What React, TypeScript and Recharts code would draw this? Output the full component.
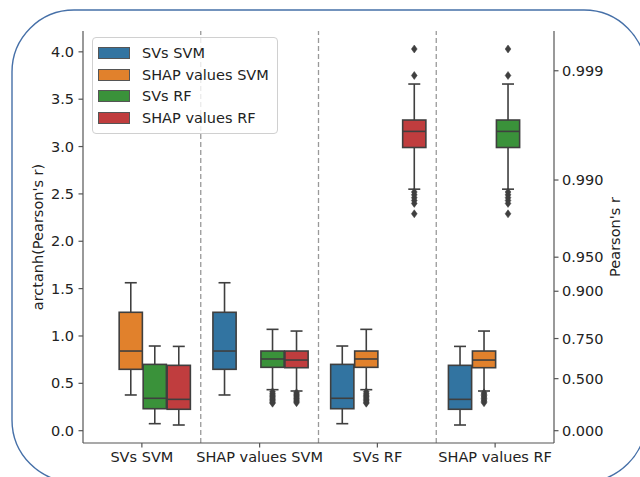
import React from 'react';
import { ComposedChart, Bar, XAxis, YAxis, ReferenceLine, Legend } from 'recharts';

// Categories (x groups) and hue series
const groups = ['SVs SVM', 'SHAP values SVM', 'SVs RF', 'SHAP values RF'];
const seriesNames = ['SVs SVM', 'SHAP values SVM', 'SVs RF', 'SHAP values RF'];
const seriesColors = ['#3274a1', '#e1812c', '#3a923a', '#c03d3e'];

// Box statistics per group: [lower whisker, Q1, median, Q3, upper whisker]; null on the diagonal
const svsSvmStats = [null, [0.377, 0.648, 0.841, 1.25, 1.562], [0.074, 0.232, 0.342, 0.7, 0.894], [0.06, 0.226, 0.331, 0.69, 0.89]];
const shapSvmStats = [[0.377, 0.648, 0.841, 1.25, 1.562], null, [0.433, 0.669, 0.757, 0.841, 1.07], [0.419, 0.665, 0.746, 0.841, 1.052]];
const svsRfStats = [[0.074, 0.232, 0.342, 0.7, 0.894], [0.433, 0.669, 0.757, 0.841, 1.07], null, [2.55, 2.99, 3.16, 3.28, 3.66]];
const shapRfStats = [[0.06, 0.226, 0.331, 0.69, 0.89], [0.419, 0.665, 0.746, 0.841, 1.052], [2.55, 2.99, 3.16, 3.28, 3.66], null];

// Outliers per group
const svsSvmOutliers = [[], [], [], []];
const shapSvmOutliers = [[], [], [0.41, 0.39, 0.375, 0.36, 0.345, 0.33, 0.315, 0.3, 0.29], [0.4, 0.385, 0.37, 0.355, 0.34, 0.325, 0.31, 0.295]];
const svsRfOutliers = [[], [0.41, 0.39, 0.375, 0.36, 0.345, 0.33, 0.315, 0.3, 0.29], [], [2.52, 2.49, 2.46, 2.43, 2.4, 2.29, 3.75, 4.03]];
const shapRfOutliers = [[], [0.4, 0.385, 0.37, 0.355, 0.34, 0.325, 0.31, 0.295], [2.52, 2.49, 2.46, 2.43, 2.4, 2.29, 3.75, 4.03], []];

// Axis ticks
const leftTicks = [0, 0.5, 1, 1.5, 2, 2.5, 3, 3.5, 4];
const rTickLabels = [0, 0.5, 0.75, 0.9, 0.95, 0.99, 0.999];
const yDomain = [-0.13, 4.22];

const allStats = [svsSvmStats, shapSvmStats, svsRfStats, shapRfStats];
const allOutliers = [svsSvmOutliers, shapSvmOutliers, svsRfOutliers, shapRfOutliers];

const data = groups.map((g, gi) => {
  const row: any = { group: g, pos: gi + 0.5 };
  allStats.forEach((st, si) => {
    row[`s${si}`] = st[gi];
    row[`o${si}`] = allOutliers[si][gi];
  });
  return row;
});

const EDGE = '#3f3f3f';
const FONT = 'DejaVu Sans';
const TEXT = '#222';
const SPINE = '#555';

function makeBoxShape(si: number) {
  return (props: any) => {
    const { x, y, width, height, payload } = props;
    const s = payload && payload[`s${si}`];
    if (!s || height == null || isNaN(height)) return null;
    const lo = s[0];
    const hi = s[4];
    const top = Math.min(y, y + height);
    const h = Math.abs(height);
    const py = (v: number) => top + (h * (hi - v)) / (hi - lo);
    const bx = x + 0.4;
    const bw = width - 0.8;
    const cx = x + width / 2;
    const capHalf = width / 4;
    const outs: number[] = payload[`o${si}`] || [];
    return (
      <g>
        <line x1={cx} x2={cx} y1={py(s[3])} y2={py(hi)} stroke={EDGE} strokeWidth={1.6} />
        <line x1={cx} x2={cx} y1={py(s[1])} y2={py(lo)} stroke={EDGE} strokeWidth={1.6} />
        <line x1={cx - capHalf} x2={cx + capHalf} y1={py(hi)} y2={py(hi)} stroke={EDGE} strokeWidth={1.6} />
        <line x1={cx - capHalf} x2={cx + capHalf} y1={py(lo)} y2={py(lo)} stroke={EDGE} strokeWidth={1.6} />
        <rect x={bx} y={py(s[3])} width={bw} height={py(s[1]) - py(s[3])} fill={seriesColors[si]} stroke={EDGE} strokeWidth={1.6} />
        <line x1={bx} x2={bx + bw} y1={py(s[2])} y2={py(s[2])} stroke={EDGE} strokeWidth={1.6} />
        {outs.map((o, i) => {
          const oy = py(o);
          return (
            <path key={i} d={`M${cx},${oy - 4} L${cx + 2.9},${oy} L${cx},${oy + 4} L${cx - 2.9},${oy} Z`} fill={EDGE} stroke={EDGE} strokeWidth={0.5} />
          );
        })}
      </g>
    );
  };
}

const LegendBox = (props: any) => {
  const payload = [...(props.payload || [])].sort(
    (a: any, b: any) => seriesNames.indexOf(a.value) - seriesNames.indexOf(b.value)
  );
  return (
    <div
      style={{
        border: '1px solid #d0d0d0',
        borderRadius: 4,
        background: 'rgba(255,255,255,0.8)',
        padding: '4px 8px 4px 5px',
        fontFamily: FONT,
        fontSize: 14.5,
        color: TEXT,
      }}
    >
      {payload.map((p: any) => (
        <div key={p.value} style={{ display: 'flex', alignItems: 'center', height: 21.7, whiteSpace: 'nowrap' }}>
          <span
            style={{
              display: 'inline-block',
              width: 30,
              height: 10,
              background: p.color,
              border: '0.8px solid #555',
              marginRight: 12,
            }}
          />
          <span>{p.value}</span>
        </div>
      ))}
    </div>
  );
};

export default function App() {
  return (
    <div style={{ position: 'absolute', left: 0, top: 0, width: 640, height: 477, background: '#fff' }}>
      <svg width={640} height={477} style={{ position: 'absolute', left: 0, top: 0, pointerEvents: 'none' }}>
        <rect x={12} y={10} width={634} height={472} rx={62} ry={62} fill="none" stroke="#4670a8" strokeWidth={1.4} />
      </svg>
      <div style={{ position: 'absolute', left: 0, top: 0 }}>
        <ComposedChart
          width={640}
          height={477}
          data={data}
          margin={{ top: 31, right: 26, bottom: 4, left: 23 }}
          barCategoryGap="10%"
          barGap={0}
        >
          <XAxis
            dataKey="group"
            height={30}
            tick={{ fontSize: 14.5, fill: TEXT, fontFamily: FONT }}
            tickSize={4.5}
            tickMargin={4.5}
            tickLine={{ stroke: SPINE, strokeWidth: 1.2 }}
            axisLine={{ stroke: SPINE, strokeWidth: 1.2 }}
            interval={0}
          />
          <XAxis
            xAxisId="top"
            orientation="top"
            dataKey="group"
            height={0}
            tick={false}
            tickLine={false}
            axisLine={{ stroke: SPINE, strokeWidth: 1.2 }}
          />
          <XAxis
            xAxisId="sep"
            dataKey="pos"
            type="number"
            domain={[0, groups.length]}
            allowDataOverflow
            hide
            height={0}
          />
          <YAxis
            yAxisId="left"
            width={60}
            domain={yDomain}
            allowDataOverflow
            ticks={leftTicks}
            tickFormatter={(v: number) => v.toFixed(1)}
            tick={{ fontSize: 14.5, fill: TEXT, fontFamily: FONT }}
            tickSize={4.5}
            tickMargin={4.5}
            tickLine={{ stroke: SPINE, strokeWidth: 1.2 }}
            axisLine={{ stroke: SPINE, strokeWidth: 1.2 }}
            label={{ value: "arctanh(Pearson's r)", angle: -90, position: 'center', dx: -15, style: { fontSize: 14.5, fill: TEXT, fontFamily: FONT } }}
          />
          <YAxis
            yAxisId="right"
            orientation="right"
            width={60}
            domain={yDomain}
            allowDataOverflow
            ticks={rTickLabels.map((r) => Math.atanh(r))}
            tickFormatter={(v: number) => Math.tanh(v).toFixed(3)}
            tick={{ fontSize: 14.5, fill: TEXT, fontFamily: FONT }}
            tickSize={4.5}
            tickMargin={3.5}
            tickLine={{ stroke: SPINE, strokeWidth: 1.2 }}
            axisLine={{ stroke: SPINE, strokeWidth: 1.2 }}
            label={{ value: "Pearson's r", angle: -90, position: 'center', dx: 31, style: { fontSize: 14.5, fill: TEXT, fontFamily: FONT } }}
          />
          {groups.slice(1).map((_, i) => (
            <ReferenceLine key={i} x={i + 1} xAxisId="sep" yAxisId="left" stroke="#999" strokeWidth={1.3} strokeDasharray="5 3" />
          ))}
          {seriesNames.map((name, si) => (
            <Bar
              key={name}
              name={name}
              yAxisId="left"
              dataKey={(d: any) => (d[`s${si}`] ? [d[`s${si}`][0], d[`s${si}`][4]] : null)}
              fill={seriesColors[si]}
              shape={makeBoxShape(si)}
              isAnimationActive={false}
            />
          ))}
          <Legend
            layout="vertical"
            align="center"
            verticalAlign="middle"
            content={<LegendBox />}
            wrapperStyle={{ position: 'absolute', left: 92, top: 37, width: 'auto', height: 'auto' }}
          />
        </ComposedChart>
      </div>
    </div>
  );
}
